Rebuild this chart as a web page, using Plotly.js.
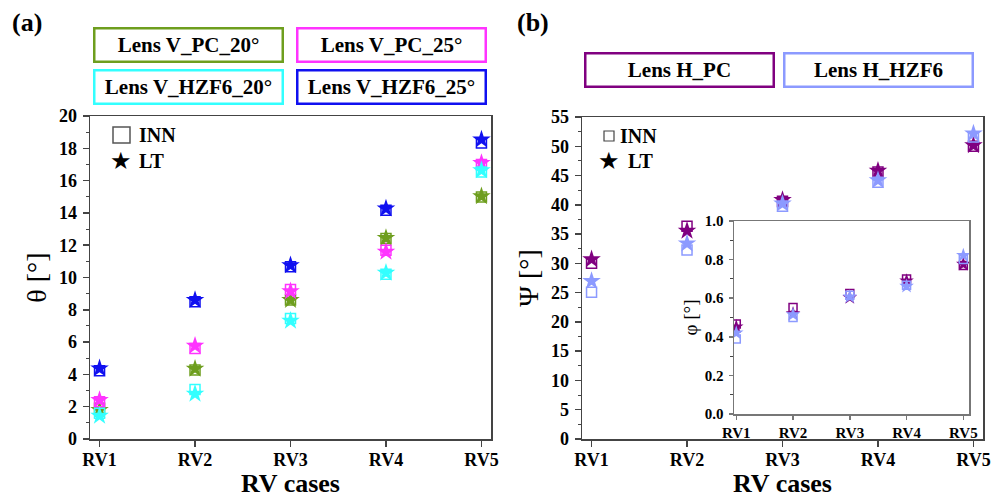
<!DOCTYPE html>
<html><head><meta charset="utf-8">
<script src="https://cdn.plot.ly/plotly-3.0.1.min.js"></script>
<style>html,body{margin:0;padding:0;background:#fff}#chart{width:998px;height:500px}</style>
</head><body><div id="chart"></div>
<script>
// ---------- data ----------
const cases = ['RV1','RV2','RV3','RV4','RV5'];
// (a) theta [deg]
const vPC20_INN   = [1.9, 4.27, 8.6, 12.41, 14.99];
const vPC20_LT    = [1.8, 4.35, 8.6, 12.45, 15.03];
const vPC25_INN   = [2.3, 5.6, 9.26, 11.69, 17.0];
const vPC25_LT    = [2.41, 5.77, 9.15, 11.59, 17.09];
const vHZF20_INN  = [1.6, 3.07, 7.46, 10.2, 16.54];
const vHZF20_LT   = [1.44, 2.8, 7.32, 10.29, 16.64];
const vHZF25_INN  = [4.23, 8.5, 10.66, 14.16, 18.33];
const vHZF25_LT   = [4.37, 8.6, 10.76, 14.27, 18.54];
// (b) Psi [deg]
const hPC_INN   = [30.0, 36.36, 40.6, 45.6, 50.0];
const hPC_LT    = [30.68, 35.57, 40.8, 45.8, 50.17];
const hHZF_INN  = [25.06, 32.27, 39.77, 43.86, 51.6];
const hHZF_LT   = [26.99, 33.4, 40.2, 44.2, 52.16];
// (b) inset phi [deg]
const phiPC_INN  = [0.466, 0.552, 0.624, 0.70, 0.769];
const phiPC_LT   = [0.452, 0.52, 0.603, 0.69, 0.776];
const phiHZF_INN = [0.388, 0.50, 0.615, 0.667, 0.80];
const phiHZF_LT  = [0.42, 0.515, 0.607, 0.662, 0.822];

const xTitle = 'RV cases';

const cGreen='#6E9E1E', cMag='#FF33FF', cCyan='#33FFFF', cBlue='#1010F0', cPur='#800080', cLB='#8C9AFF';
const F = 'Liberation Serif, Times New Roman, serif';

function pair(inn, lt, color, xa, ya, sq, st){
  return [
    {x:cases, y:inn, xaxis:xa, yaxis:ya, type:'scatter', mode:'markers',
     marker:{symbol:'square-open', size:sq, color:color, line:{width:1.5, color:color}}, showlegend:false},
    {x:cases, y:lt, xaxis:xa, yaxis:ya, type:'scatter', mode:'markers',
     marker:{symbol:'star', size:st, color:color, line:{width:0}}, showlegend:false}
  ];
}
const traces = [].concat(
  pair(vPC20_INN, vPC20_LT, cGreen,'x','y',10,14),
  pair(vPC25_INN, vPC25_LT, cMag,'x','y',10,14),
  pair(vHZF20_INN, vHZF20_LT, cCyan,'x','y',10,14),
  pair(vHZF25_INN, vHZF25_LT, cBlue,'x','y',10,14),
  pair(hPC_INN, hPC_LT, cPur,'x2','y2',10,14),
  pair(hHZF_INN, hHZF_LT, cLB,'x2','y2',10,14),
  pair(phiPC_INN, phiPC_LT, cPur,'x3','y3',8,11),
  pair(phiHZF_INN, phiHZF_LT, cLB,'x3','y3',8,11)
);

const W=998, H=500;
const px = v => v/W, py = v => 1 - v/H;

function xax(dom, anchor, fs, rng){
  return {domain:dom, anchor:anchor, type:'category', range:rng, showline:true, mirror:true,
    linecolor:'#444', linewidth:1.5, ticks:'outside', ticklen:6, tickwidth:1.5, tickcolor:'#444',
    ticklabelstandoff:-2,
    showgrid:false, zeroline:false, tickfont:{family:F, size:fs, color:'#000', weight:'bold'}};
}
function yax(dom, anchor, fs, rng, dt, mdt, fmt){
  return {domain:dom, anchor:anchor, range:rng, dtick:dt, tick0:0, showline:true, mirror:true,
    linecolor:'#444', linewidth:1.5, ticks:'outside', ticklen:6, tickwidth:1.5, tickcolor:'#444',
    minor:{dtick:mdt, ticks:'outside', ticklen:3, tickwidth:1, tickcolor:'#444', showgrid:false},
    tickformat:fmt, showgrid:false, zeroline:false, ticklabelstandoff:2,
    tickfont:{family:F, size:fs, color:'#000', weight:'bold'}};
}

const layout = {
  width:W, height:H, margin:{l:0,r:0,t:0,b:0}, paper_bgcolor:'#fff', plot_bgcolor:'rgba(0,0,0,0)',
  showlegend:false,
  xaxis: xax([px(90),px(491)],'y',18,[-0.1,4.1]),
  yaxis: Object.assign(yax([py(439),py(116)],'x',18,[0,20],2,1,'d'),
    {title:{text:'θ [°]', font:{family:F,size:28,color:'#000'}, standoff:4}}),
  xaxis2: xax([px(582),px(983)],'y2',18,[-0.1,4.1]),
  yaxis2: Object.assign(yax([py(439),py(117)],'x2',18,[0,55],5,2.5,'d'),
    {title:{text:'Ψ [°]', font:{family:F,size:28,color:'#000'}, standoff:4}}),
  xaxis3: Object.assign(xax([px(734),px(969)],'y3',15,[-0.04,4.1]), {linecolor:'#777', tickcolor:'#777', ticklen:4, ticklabelstandoff:0}),
  yaxis3: Object.assign(yax([py(414),py(221)],'x3',15,[0,1.0],0.2,0.1,'.1f'),
    {linecolor:'#777', tickcolor:'#777', ticklen:4,
     title:{text:'φ [°]', font:{family:F,size:19,color:'#000'}, standoff:2}}),
  shapes: [
    {type:'rect', xref:'paper', yref:'paper', x0:px(113), x1:px(130), y0:py(143), y1:py(127), line:{color:'#555', width:1.5}},
    {type:'rect', xref:'paper', yref:'paper', x0:px(604), x1:px(614), y0:py(141), y1:py(131), line:{color:'#444', width:1.2}}
  ],
  annotations: []
};

const ann = layout.annotations;
function box(text, cx, cy, color){
  ann.push({xref:'paper', yref:'paper', x:px(cx), y:py(cy), xanchor:'center', yanchor:'middle',
    text:text, showarrow:false, width:186, height:31, borderpad:0, bordercolor:color, borderwidth:2.5,
    font:{family:F, size:21, color:'#000', weight:'bold'}});
}
box('Lens V_PC_20°',188,45,cGreen);
box('Lens V_PC_25°',391,45,cMag);
box('Lens V_HZF6_20°',188,87,cCyan);
box('Lens V_HZF6_25°',391,87,cBlue);
box('Lens H_PC',679,70,cPur);
box('Lens H_HZF6',878,70,cLB);

function txt(t, x, y, size, anchor, fam, ya){
  ann.push({xref:'paper', yref:'paper', x:px(x), y:py(y), xanchor:anchor||'left', yanchor:ya||'middle',
    text:t, showarrow:false, font:{family:fam||F, size:size, color:'#000', weight:'bold'}});
}
txt('(a)', 10, 22, 26);
txt('(b)', 515, 22, 26);
txt('INN', 137, 135, 20);
txt('LT', 137, 161, 20);
txt('★', 121, 161, 24, 'center', 'DejaVu Sans');
txt('INN', 618, 136, 20);
txt('LT', 626, 161, 20);
txt('★', 609, 161, 24, 'center', 'DejaVu Sans');
txt(xTitle, 290, 500, 26, 'center', F, 'bottom');
txt(xTitle, 782, 500, 26, 'center', F, 'bottom');

Plotly.newPlot('chart', traces, layout, {displayModeBar:false, staticPlot:true});
</script></body></html>
